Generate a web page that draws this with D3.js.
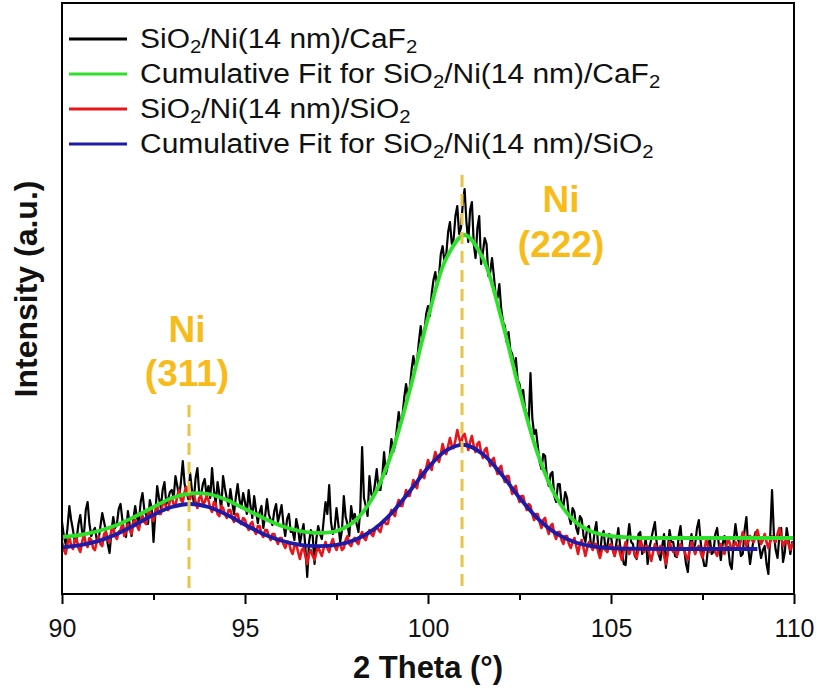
<!DOCTYPE html>
<html>
<head>
<meta charset="utf-8">
<script src="https://cdn.jsdelivr.net/npm/d3@7"></script>
<style>
  body { margin: 0; background: #fff; }
  svg text { font-family: "Liberation Sans", Arial, sans-serif; }
</style>
</head>
<body>
<svg id="chart" width="817" height="691"></svg>
<script>
// Raw XRD scans, 2θ from 90° in 0.05° steps (intensity in a.u.)
const rawStart = 90, rawStep = 0.05;
const caf2Raw = [
  72, 58, 50, 66, 88, 74, 64, 52, 55, 70, 79, 62, 60, 84, 92, 70, 58, 63, 66, 54,
  54, 68, 81, 72, 63, 50, 41, 62, 77, 66, 70, 85, 90, 74, 61, 57, 83, 69, 58, 75,
  88, 76, 72, 92, 101, 84, 79, 70, 94, 86, 52, 80, 108, 96, 86, 104, 112, 90, 95, 102,
  104, 96, 118, 108, 97, 112, 133, 110, 102, 95, 121, 104, 92, 116, 126, 100, 99, 110, 115, 98,
  108, 96, 126, 104, 90, 112, 100, 84, 118, 106, 96, 88, 105, 92, 80, 97, 110, 94, 86, 101,
  92, 80, 104, 88, 76, 98, 84, 71, 82, 88, 66, 78, 95, 80, 74, 69, 83, 90, 72, 80,
  89, 70, 58, 75, 80, 62, 63, 54, 75, 66, 50, 61, 70, 46, 17, 52, 64, 58, 30, 55,
  68, 60, 55, 74, 92, 80, 109, 72, 60, 66, 86, 70, 52, 64, 98, 77, 70, 58, 88, 75,
  80, 70, 62, 84, 147, 96, 88, 78, 118, 100, 96, 110, 125, 104, 104, 118, 142, 120, 128, 136,
  155, 142, 148, 166, 182, 170, 178, 196, 210, 198, 205, 224, 238, 226, 232, 252, 268, 254, 262, 280,
  288, 278, 300, 314, 322, 308, 318, 340, 348, 332, 340, 362, 372, 350, 355, 378, 388, 360, 366, 390,
  405, 372, 352, 384, 392, 350, 336, 366, 378, 330, 342, 356, 350, 318, 322, 336, 318, 298, 296, 310,
  285, 272, 268, 252, 262, 244, 240, 226, 236, 214, 210, 198, 204, 186, 180, 170, 221, 176, 160, 164,
  148, 132, 125, 140, 138, 116, 108, 120, 122, 98, 92, 110, 110, 90, 88, 102, 96, 78, 70, 86,
  82, 66, 60, 78, 75, 58, 52, 66, 68, 50, 45, 62, 72, 48, 40, 58, 63, 44, 48, 60,
  58, 44, 38, 52, 66, 48, 42, 30, 29, 55, 70, 52, 50, 38, 35, 60, 62, 40, 44, 56,
  30, 46, 55, 64, 72, 50, 40, 34, 48, 60, 26, 44, 64, 52, 52, 38, 37, 58, 68, 46,
  45, 30, 22, 48, 60, 44, 50, 66, 74, 52, 38, 28, 28, 46, 56, 40, 42, 60, 66, 48,
  34, 50, 58, 44, 47, 30, 25, 52, 70, 56, 52, 38, 40, 64, 77, 46, 30, 44, 55, 62,
  62, 48, 36, 44, 48, 30, 20, 58, 104, 60, 44, 36, 58, 66, 32, 42, 66, 54, 40, 52,
  50
];
const sio2Raw = [
  52, 44, 40, 50, 58, 48, 45, 54, 55, 46, 42, 52, 60, 50, 47, 56, 54, 46, 44, 52,
  58, 50, 48, 60, 62, 54, 52, 64, 67, 58, 55, 62, 64, 70, 58, 62, 70, 64, 60, 72,
  74, 68, 64, 74, 78, 72, 70, 80, 84, 76, 73, 82, 88, 80, 80, 90, 92, 86, 84, 94,
  96, 90, 88, 98, 104, 94, 92, 102, 107, 98, 95, 102, 100, 92, 86, 96, 98, 90, 92, 98,
  94, 86, 82, 92, 90, 80, 78, 88, 86, 80, 76, 84, 84, 76, 72, 80, 80, 72, 70, 76,
  74, 68, 64, 70, 72, 64, 60, 68, 68, 60, 57, 64, 64, 58, 54, 60, 60, 54, 50, 56,
  56, 50, 46, 52, 52, 44, 40, 48, 50, 42, 35, 44, 46, 38, 30, 40, 44, 38, 34, 42,
  48, 42, 38, 46, 52, 46, 42, 50, 55, 48, 44, 50, 50, 44, 46, 54, 58, 50, 48, 54,
  56, 52, 50, 58, 62, 56, 54, 60, 64, 60, 58, 64, 68, 64, 62, 70, 74, 70, 70, 78,
  84, 80, 78, 88, 94, 88, 88, 96, 104, 98, 98, 106, 114, 108, 106, 116, 124, 118, 116, 126,
  134, 128, 124, 134, 142, 136, 132, 140, 150, 142, 140, 148, 156, 148, 146, 154, 164, 156, 150, 158,
  160, 152, 144, 152, 158, 148, 142, 150, 152, 142, 136, 144, 146, 136, 128, 134, 136, 126, 120, 126,
  128, 118, 112, 118, 118, 108, 100, 106, 108, 98, 92, 98, 98, 90, 84, 90, 88, 80, 74, 80,
  80, 72, 66, 74, 76, 66, 60, 68, 70, 60, 55, 62, 62, 54, 50, 58, 58, 50, 46, 52,
  56, 48, 40, 50, 54, 46, 38, 46, 52, 48, 44, 50, 50, 42, 36, 44, 48, 44, 42, 48,
  50, 44, 38, 46, 48, 40, 34, 44, 52, 46, 40, 46, 46, 40, 36, 44, 54, 48, 42, 48,
  48, 40, 33, 42, 50, 46, 40, 48, 46, 38, 30, 40, 52, 46, 42, 46, 38, 44, 50, 46,
  44, 38, 34, 44, 52, 46, 40, 46, 48, 42, 36, 44, 54, 48, 42, 46, 46, 42, 38, 46,
  50, 44, 40, 48, 56, 50, 44, 48, 52, 48, 46, 54, 62, 56, 48, 52, 58, 54, 52, 58,
  64, 56, 50, 54, 60, 52, 46, 52, 58, 54, 52, 60, 66, 58, 48, 52, 56, 50, 44, 50,
  52
];

// Cumulative peak fits, 2θ from 90° in 0.5° steps
const fitStart = 90, fitStep = 0.5;
const caf2Fit = [
  57, 59, 63, 69, 77.5, 87, 96, 100.5, 100, 94,
  85, 76, 68, 63, 61, 63, 73, 97, 140, 203.5,
  276, 335.7, 359, 335.7, 276, 203.5, 140, 97, 73, 62,
  58, 56.5, 56, 56, 56, 56, 56, 56, 56, 56,
  56
];
const sio2Fit = [
  46.6, 48.8, 53.1, 60, 69.3, 79.2, 87, 90, 87, 79.2,
  69.3, 60, 53.2, 49.2, 47.8, 49.2, 54.1, 64.1, 80.7, 102.8,
  126.1, 143.6, 149, 139.8, 119.9, 96.3, 75.4, 60.6, 52, 47.7,
  45.9, 45.3, 45.1, 45, 45, 45, 45, 45, 45
];

// Reflection positions and their labels
const peakPositions = [93.47, 100.93];
const peakNames = ["Ni", "Ni"];
const peakIndices = ["(311)", "(222)"];

// Axis ticks
const xMajorTicks = [90, 95, 100, 105, 110];
const xMinorTicks = [92.5, 97.5, 102.5, 107.5];

// Legend entries: text parts, [text, isSubscript]
const legendNames = [
  [["SiO", 0], ["2", 1], ["/Ni(14 nm)/CaF", 0], ["2", 1]],
  [["Cumulative Fit for SiO", 0], ["2", 1], ["/Ni(14 nm)/CaF", 0], ["2", 1]],
  [["SiO", 0], ["2", 1], ["/Ni(14 nm)/SiO", 0], ["2", 1]],
  [["Cumulative Fit for SiO", 0], ["2", 1], ["/Ni(14 nm)/SiO", 0], ["2", 1]]
];
const seriesColors = ["#000000", "#2fe02a", "#e8161a", "#1c1ca8"];

// ---- layout ----
const svg = d3.select("#chart");
const plot = { left: 62, right: 794, top: 3, bottom: 594 };

const x = d3.scaleLinear().domain([90, 110]).range([plot.left, plot.right]);
const y = d3.scaleLinear().domain([0, 590]).range([plot.bottom, plot.top + 1]);

const toPoints = (vals, start, step) => vals.map((v, i) => [start + i * step, v]);

const rawLine = d3.line().x(d => x(d[0])).y(d => y(d[1]));
const fitLine = d3.line().x(d => x(d[0])).y(d => y(d[1])).curve(d3.curveCatmullRom.alpha(0.5));

svg.append("defs").append("clipPath").attr("id", "plotClip")
  .append("rect")
  .attr("x", plot.left).attr("y", plot.top)
  .attr("width", plot.right - plot.left).attr("height", plot.bottom - plot.top);

const g = svg.append("g").attr("clip-path", "url(#plotClip)");

// raw scans
g.append("path").datum(toPoints(caf2Raw, rawStart, rawStep))
  .attr("d", rawLine).attr("fill", "none")
  .attr("stroke", seriesColors[0]).attr("stroke-width", 2.2).attr("stroke-linejoin", "round");
g.append("path").datum(toPoints(sio2Raw, rawStart, rawStep))
  .attr("d", rawLine).attr("fill", "none")
  .attr("stroke", seriesColors[2]).attr("stroke-width", 2.6).attr("stroke-linejoin", "round");

// cumulative fits
g.append("path").datum(toPoints(caf2Fit, fitStart, fitStep))
  .attr("d", fitLine).attr("fill", "none")
  .attr("stroke", seriesColors[1]).attr("stroke-width", 3.8);
g.append("path").datum(toPoints(sio2Fit, fitStart, fitStep))
  .attr("d", fitLine).attr("fill", "none")
  .attr("stroke", seriesColors[3]).attr("stroke-width", 3.8);

// reflection markers
const markerTops = [405, 175];
peakPositions.forEach((p, i) => {
  g.append("line")
    .attr("x1", x(p)).attr("x2", x(p))
    .attr("y1", markerTops[i]).attr("y2", plot.bottom)
    .attr("stroke", "#e8c448").attr("stroke-width", 3)
    .attr("stroke-dasharray", "12,7");
});

// reflection labels
const labelOffsets = [[-2, 342, 386], [99, 212, 257]];
peakPositions.forEach((p, i) => {
  const [dx, y1, y2] = labelOffsets[i];
  const lg = svg.append("g")
    .attr("fill", "#f7bc1a").attr("font-weight", "bold").attr("font-size", 37)
    .attr("text-anchor", "middle");
  lg.append("text").attr("x", x(p) + dx).attr("y", y1).text(peakNames[i]);
  lg.append("text").attr("x", x(p) + dx).attr("y", y2).text(peakIndices[i]);
});

// frame
svg.append("rect")
  .attr("x", plot.left).attr("y", plot.top)
  .attr("width", plot.right - plot.left).attr("height", plot.bottom - plot.top)
  .attr("fill", "none").attr("stroke", "#000").attr("stroke-width", 2);

// x axis
const xAxis = d3.axisBottom(x).tickValues(xMajorTicks).tickSize(10).tickPadding(15)
  .tickFormat(d3.format("d"));
const ax = svg.append("g").attr("transform", `translate(0,${plot.bottom})`).call(xAxis);
ax.select(".domain").remove();
ax.selectAll(".tick line").attr("stroke", "#000").attr("stroke-width", 2);
ax.selectAll(".tick text").attr("font-size", 25).attr("fill", "#111")
  .attr("font-family", "Liberation Sans, Arial, sans-serif");
const axMinor = svg.append("g").attr("transform", `translate(0,${plot.bottom})`)
  .call(d3.axisBottom(x).tickValues(xMinorTicks).tickSize(6).tickFormat(""));
axMinor.select(".domain").remove();
axMinor.selectAll(".tick line").attr("stroke", "#000").attr("stroke-width", 2);

// axis titles
svg.append("text")
  .attr("x", 428).attr("y", 678).attr("text-anchor", "middle")
  .attr("font-size", 31).attr("font-weight", "bold").attr("fill", "#111")
  .text("2 Theta (°)");
svg.append("text")
  .attr("transform", "translate(37,289) rotate(-90)").attr("text-anchor", "middle")
  .attr("font-size", 32).attr("font-weight", "bold").attr("fill", "#111")
  .text("Intensity (a.u.)");

// legend: slightly stretched text so the rows keep their width at a compact height
const legendY = [39, 74, 109, 144];
legendNames.forEach((parts, i) => {
  const row = svg.append("g").attr("transform", `translate(0,${legendY[i]})`);
  row.append("line").attr("x1", 69).attr("x2", 127).attr("y1", 0).attr("y2", 0)
    .attr("stroke", seriesColors[i]).attr("stroke-width", 3.2);
  const t = row.append("g").attr("transform", "translate(140,9) scale(1.07,1)")
    .append("text").attr("x", 0).attr("y", 0)
    .attr("font-size", 28).attr("fill", "#111");
  let shifted = false;
  parts.forEach(([s, sub]) => {
    const ts = t.append("tspan").text(s);
    if (sub && !shifted) { ts.attr("dy", 5).attr("font-size", 19); shifted = true; }
    else if (!sub && shifted) { ts.attr("dy", -5); shifted = false; }
  });
});
</script>
</body>
</html>
